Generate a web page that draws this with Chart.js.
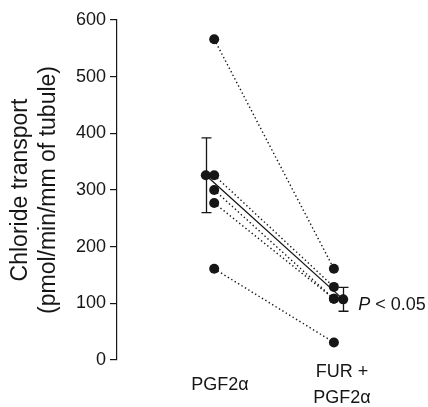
<!DOCTYPE html>
<html><head><meta charset="utf-8">
<script src="https://cdn.jsdelivr.net/npm/chart.js@4/dist/chart.umd.min.js"></script>
<style>html,body{margin:0;padding:0;background:#fff}#wrap{width:428px;height:407px}</style>
</head><body><div id="wrap"><canvas id="c" width="428" height="407"></canvas></div>
<script>
// ---- data ----
const categories = ["PGF2α", ["FUR +", "PGF2α"]];
const pgf = [566, 326, 300, 277, 161];          // individual tubules, PGF2α
const furPgf = [161, 129, 108, 108, 31];         // same tubules, FUR + PGF2α
const means = [326, 107];
const sems = [66, 21];
const yTicks = [0, 100, 200, 300, 400, 500, 600];
const yTitle = ["Chloride transport", "(pmol/min/mm of tubule)"];
const pText = ["P", " < 0.05"];

// ---- layout constants (x positions on a hidden 0..10 linear scale) ----
const X_DATA = [3.24, 7.23];
const X_MEAN = [2.96, 7.54];
const X_LABEL = [3.43, 7.5];
const FONT = "'Liberation Sans', Arial, Helvetica, sans-serif";
const INK = '#161616';

const datasets = pgf.map((v, i) => ({
  data: [{x: X_DATA[0], y: v}, {x: X_DATA[1], y: furPgf[i]}],
  borderColor: INK, borderWidth: 1.4, borderDash: [1.4, 2.6],
  pointRadius: 5, pointBackgroundColor: INK, pointBorderWidth: 0,
  showLine: true, order: 2
}));
datasets.push({
  data: [{x: X_MEAN[0], y: means[0]}, {x: X_MEAN[1], y: means[1]}],
  borderColor: INK, borderWidth: 1.3,
  pointRadius: 5, pointBackgroundColor: INK, pointBorderWidth: 0,
  showLine: true, order: 1
});

const annot = {
  id: 'annot',
  beforeDatasetsDraw(chart) {
    const {ctx, scales: {x, y}} = chart;
    ctx.save();
    ctx.strokeStyle = INK; ctx.lineWidth = 1.3;
    means.forEach((m, i) => {
      const px = Math.round(x.getPixelForValue(X_MEAN[i])) + 0.5;
      const t = y.getPixelForValue(m + sems[i]), b = y.getPixelForValue(m - sems[i]);
      ctx.beginPath();
      ctx.moveTo(px, t); ctx.lineTo(px, b);
      ctx.moveTo(px - 5, t); ctx.lineTo(px + 5, t);
      ctx.moveTo(px - 5, b); ctx.lineTo(px + 5, b);
      ctx.stroke();
    });
    ctx.restore();
  },
  afterDraw(chart) {
    const {ctx, chartArea, scales: {x, y}} = chart;
    ctx.save();
    ctx.fillStyle = INK;
    ctx.font = `18px ${FONT}`;
    ctx.textAlign = 'center'; ctx.textBaseline = 'middle';
    categories.forEach((c, i) => {
      const px = x.getPixelForValue(X_LABEL[i]);
      const lines = Array.isArray(c) ? c : [c];
      const lh = 25.5;
      const y0 = chartArea.bottom + 25 - (lines.length - 1) * lh / 2;
      lines.forEach((l, j) => ctx.fillText(l, px, y0 + j * lh));
    });
    // significance text
    const px = x.getPixelForValue(X_MEAN[1]) + 15;
    const py = y.getPixelForValue(means[1]) + 6;
    ctx.textAlign = 'left';
    ctx.font = `italic 18px ${FONT}`;
    ctx.fillText(pText[0], px, py);
    const w = ctx.measureText(pText[0]).width;
    ctx.font = `18px ${FONT}`;
    ctx.fillText(pText[1], px + w, py);
    ctx.restore();
  }
};

new Chart(document.getElementById('c'), {
  type: 'scatter',
  data: {datasets},
  plugins: [annot],
  options: {
    responsive: false, animation: false, devicePixelRatio: 1,
    layout: {padding: {top: 20, right: 11, bottom: 47, left: 0}},
    plugins: {legend: {display: false}, tooltip: {enabled: false}},
    scales: {
      x: {type: 'linear', min: 0, max: 10, display: false},
      y: {
        min: 0, max: 600,
        afterBuildTicks: s => { s.ticks = yTicks.map(v => ({value: v})); },
        afterFit: s => { s.width = 117; },
        ticks: {font: {family: FONT, size: 18}, color: INK, padding: 4},
        grid: {drawOnChartArea: false, tickLength: 7, color: INK, lineWidth: 1.2},
        border: {display: true, color: INK, width: 1.2},
        title: {display: true, text: yTitle, color: INK,
                font: {family: FONT, size: 23, lineHeight: 1.2},
                padding: {top: 7, bottom: 0}}
      }
    }
  }
});
</script></body></html>
